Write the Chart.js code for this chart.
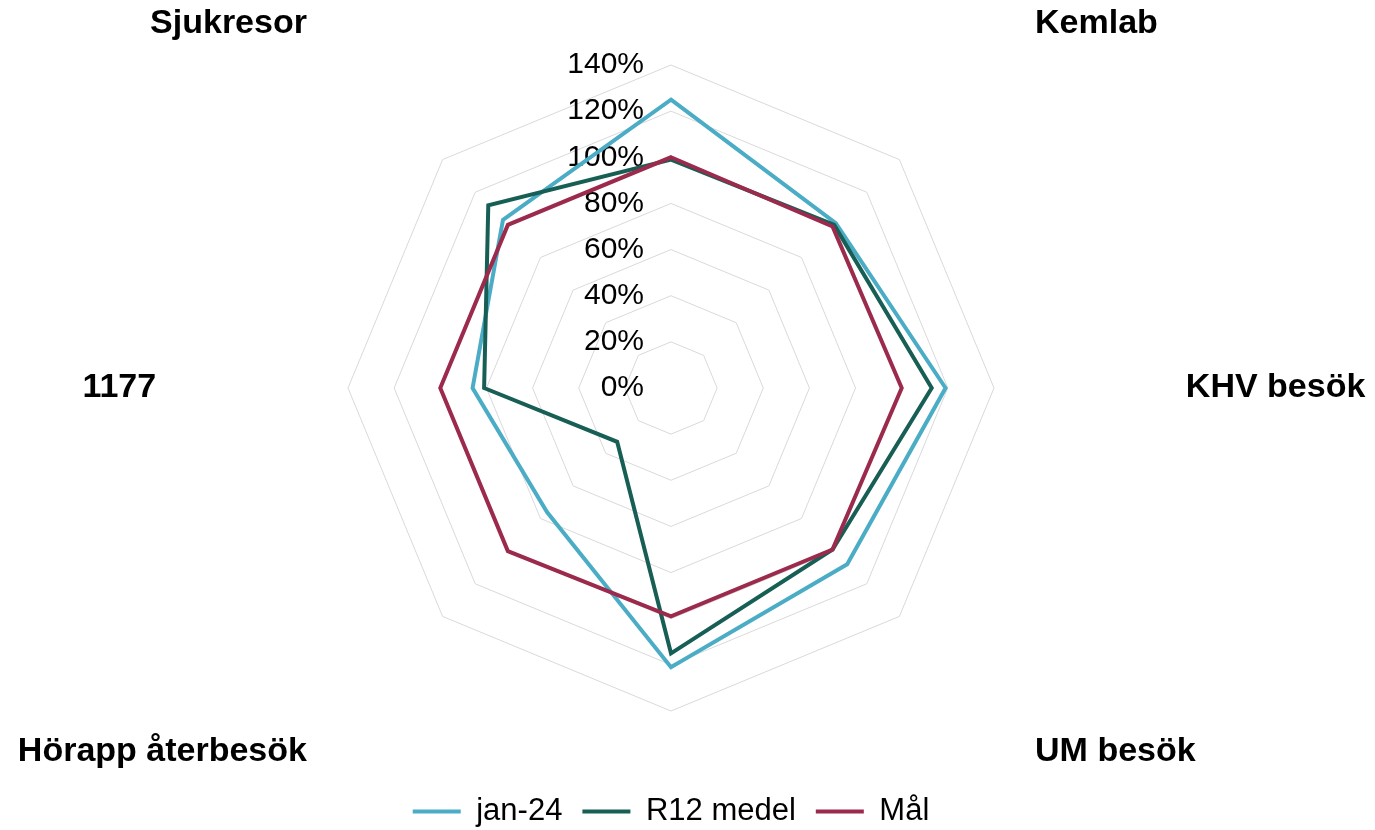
<!DOCTYPE html>
<html>
<head>
<meta charset="utf-8">
<script src="https://cdn.jsdelivr.net/npm/chart.js@4/dist/chart.umd.min.js"></script>
<style>
  html, body { margin: 0; padding: 0; background: #ffffff; }
  #wrap { width: 1375px; height: 830px; position: relative; }
</style>
</head>
<body>
<div id="wrap"><canvas id="c"></canvas></div>
<script>
// Categories clockwise from the top axis (top and bottom labels fall outside the picture)
const categories = ['', 'Kemlab', 'KHV besök', 'UM besök', '', 'Hörapp återbesök', '1177', 'Sjukresor'];

// Series values (fractions, 1.0 = 100%)
const jan24 = [1.25, 1.01, 1.19, 1.08, 1.21, 0.76, 0.86, 1.03];
const r12medel = [0.99, 1.00, 1.13, 0.99, 1.15, 0.33, 0.81, 1.12];
const mal = [1.00, 0.99, 1.00, 0.99, 0.99, 1.00, 1.00, 1.00];

const seriesNames = ['jan-24', 'R12 medel', 'Mål'];
const seriesColors = ['#4BACC6', '#175E54', '#9B2A4C'];

// Radial axis ticks
const tickValues = [0, 0.2, 0.4, 0.6, 0.8, 1.0, 1.2, 1.4];
const tickLabels = ['0%', '20%', '40%', '60%', '80%', '100%', '120%', '140%'];

const FONT = '"Liberation Sans", Arial, Helvetica, sans-serif';

const textPlugin = {
  id: 'radarText',
  beforeDatasetsDraw(chart) {
    const s = chart.scales.r;
    const ctx = chart.ctx;
    ctx.save();
    ctx.font = '30px ' + FONT;
    ctx.fillStyle = '#000000';
    ctx.textAlign = 'right';
    ctx.textBaseline = 'middle';
    s.ticks.forEach((t) => {
      const y = s.yCenter - s.getDistanceFromCenterForValue(t.value);
      ctx.fillText(t.label, s.xCenter - 27, y);
    });
    ctx.restore();
  },
  afterDraw(chart) {
    const s = chart.scales.r;
    const ctx = chart.ctx;
    ctx.save();
    ctx.font = 'bold 34px ' + FONT;
    ctx.fillStyle = '#000000';
    ctx.textBaseline = 'middle';
    chart.data.labels.forEach((lab, i) => {
      if (!lab) return;
      const p = s.getPointPosition(i, s.drawingArea * 1.594);
      ctx.textAlign = p.x < s.xCenter - 1 ? 'right' : (p.x > s.xCenter + 1 ? 'left' : 'center');
      ctx.fillText(lab, p.x, p.y);
    });
    ctx.restore();
  }
};

Chart.defaults.font.family = FONT;
Chart.defaults.color = '#000000';

const makeSet = (i, values, order) => ({
  label: seriesNames[i],
  data: values,
  borderColor: seriesColors[i],
  backgroundColor: seriesColors[i],
  pointBorderColor: seriesColors[i],
  pointBackgroundColor: seriesColors[i],
  pointBorderWidth: 4,
  borderWidth: 4,
  order: order
});

new Chart(document.getElementById('c'), {
  type: 'radar',
  data: {
    labels: categories,
    datasets: [
      makeSet(0, jan24, 3),
      makeSet(1, r12medel, 2),
      makeSet(2, mal, 1)
    ]
  },
  options: {
    responsive: true,
    maintainAspectRatio: false,
    animation: false,
    layout: { padding: { left: 348, right: 381, top: -7, bottom: -7 } },
    elements: {
      line: { borderWidth: 4, fill: false, tension: 0, borderJoinStyle: 'miter' },
      point: { radius: 0, hoverRadius: 0 }
    },
    scales: {
      r: {
        min: 0,
        max: 1.4,
        afterBuildTicks: (scale) => { scale.ticks = tickValues.map(v => ({ value: v })); },
        ticks: {
          display: false,
          callback: (v, i) => tickLabels[i]
        },
        pointLabels: { display: false },
        angleLines: { display: false },
        grid: { color: '#d9d9d9', lineWidth: 1 }
      }
    },
    plugins: {
      tooltip: { enabled: false },
      legend: {
        position: 'bottom',
        labels: {
          usePointStyle: true,
          pointStyle: 'line',
          pointStyleWidth: 48,
          padding: 20,
          color: '#000000',
          font: { size: 31, family: FONT },
          sort: (a, b) => a.datasetIndex - b.datasetIndex
        }
      }
    }
  },
  plugins: [textPlugin]
});
</script>
</body>
</html>
